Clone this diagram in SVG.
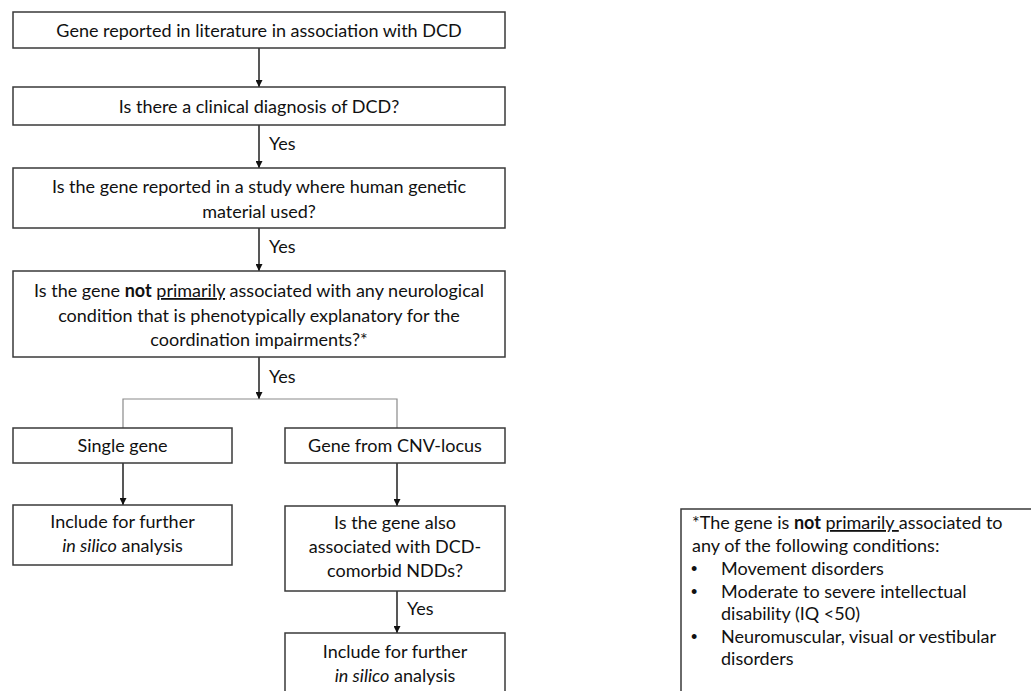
<svg xmlns="http://www.w3.org/2000/svg" width="1031" height="691" viewBox="0 0 1031 691">
<style>
.box{fill:#fff;stroke:#3a3a3a;stroke-width:1.5}
.t{font-family:Lato,"Open Sans",sans-serif;font-size:18px;fill:#111;text-anchor:middle}
.f{font-family:Lato,"Open Sans",sans-serif;font-size:18px;fill:#111}
.bu{font-family:"Liberation Sans",sans-serif;font-size:18px;fill:#111}
.arr{stroke:#111;stroke-width:1.4;fill:none;marker-end:url(#ah)}
.br{stroke:#8a8a8a;stroke-width:1.2;fill:none}
.b{font-weight:bold}
.u{text-decoration:underline}
.i{font-style:italic}
</style>
<defs>
<marker id="ah" viewBox="0 0 10 10" refX="10" refY="5" markerWidth="7" markerHeight="7" markerUnits="userSpaceOnUse" orient="auto">
<path d="M0,0 L10,5 L0,10 Z" fill="#111"/>
</marker>
</defs>
<rect width="1031" height="691" fill="#fff"/>
<g id="connectors">
<path class="arr" d="M259,48 V87"/>
<path class="arr" d="M259,125 V168"/>
<path class="arr" d="M259,228 V271"/>
<path class="arr" d="M259,357 V399"/>
<path class="br" d="M123,428 V399 H397 V428"/>
<path class="arr" d="M123,463 V505"/>
<path class="arr" d="M397,463 V506"/>
<path class="arr" d="M397,591 V633"/>
<text class="f" x="269" y="150">Yes</text>
<text class="f" x="269" y="253">Yes</text>
<text class="f" x="269" y="383">Yes</text>
<text class="f" x="407" y="615">Yes</text>
</g>
<g id="n1">
<rect class="box" x="13" y="12" width="492" height="36"/>
<text class="t" x="259" y="37">Gene reported in literature in association with DCD</text>
</g>
<g id="n2">
<rect class="box" x="13" y="87" width="492" height="38"/>
<text class="t" x="259" y="113">Is there a clinical diagnosis of DCD?</text>
</g>
<g id="n3">
<rect class="box" x="13" y="168" width="492" height="60"/>
<text class="t" x="259" y="193">Is the gene reported in a study where human genetic</text>
<text class="t" x="259" y="218">material used?</text>
</g>
<g id="n4">
<rect class="box" x="13" y="271" width="492" height="86"/>
<text class="t" x="259" y="297">Is the gene <tspan class="b">not</tspan> <tspan class="u">primarily</tspan> associated with any neurological</text>
<text class="t" x="259" y="322">condition that is phenotypically explanatory for the</text>
<text class="t" x="259" y="346">coordination impairments?*</text>
</g>
<g id="n5">
<rect class="box" x="13" y="428" width="219" height="35"/>
<text class="t" x="122.5" y="452">Single gene</text>
</g>
<g id="n6">
<rect class="box" x="285" y="428" width="220" height="35"/>
<text class="t" x="395" y="452">Gene from CNV-locus</text>
</g>
<g id="n7">
<rect class="box" x="13" y="505" width="219" height="60"/>
<text class="t" x="122.5" y="528">Include for further</text>
<text class="t" x="122.5" y="552"><tspan class="i">in silico</tspan> analysis</text>
</g>
<g id="n8">
<rect class="box" x="285" y="506" width="220" height="85"/>
<text class="t" x="395" y="529">Is the gene also</text>
<text class="t" x="395" y="553">associated with DCD-</text>
<text class="t" x="395" y="577">comorbid NDDs?</text>
</g>
<g id="n9">
<rect class="box" x="285" y="633" width="220" height="70"/>
<text class="t" x="395" y="658">Include for further</text>
<text class="t" x="395" y="682"><tspan class="i">in silico</tspan> analysis</text>
</g>
<g id="note">
<rect class="box" x="681" y="509" width="360" height="200"/>
<text class="f" x="692" y="529">*The gene is <tspan class="b">not</tspan> <tspan class="u">primarily </tspan>associated to</text>
<text class="f" x="692" y="552">any of the following conditions:</text>
<text class="bu" x="691" y="575">•</text>
<text class="f" x="721" y="575">Movement disorders</text>
<text class="bu" x="691" y="598">•</text>
<text class="f" x="721" y="598">Moderate to severe intellectual</text>
<text class="f" x="721" y="620">disability (IQ &lt;50)</text>
<text class="bu" x="691" y="643">•</text>
<text class="f" x="721" y="643">Neuromuscular, visual or vestibular</text>
<text class="f" x="721" y="665">disorders</text>
</g>
</svg>
